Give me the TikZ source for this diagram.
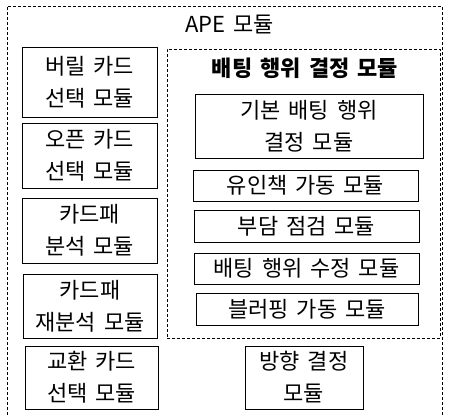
\documentclass[tikz,border=0pt]{standalone}
\usepackage{fontspec}
\setmainfont[WordSpace=1.6]{Noto Sans CJK KR}
\begin{document}
\begin{tikzpicture}[x=1pt,y=-1pt,
    box/.style={draw=black,line width=0.9pt,inner sep=0pt,align=center,
        font=\fontsize{22}{32}\selectfont},
    dashline/.style={draw=black,line width=0.9pt,dash pattern=on 3pt off 2pt}]
    \useasboundingbox (0,0) rectangle (451,416);
    \draw [dashline] (7,420) -- (7,6) -- (442,6) -- (442,420);
    \node (ape) at (229.5,24) [font=\fontsize{22}{32}\selectfont] {APE 모듈};
    \node (discard) at (89.5,82) [box,minimum width=135pt,minimum height=70pt] {버릴 카드\\선택 모듈};
    \node (open) at (89.5,155.5) [box,minimum width=135pt,minimum height=65pt] {오픈 카드\\선택 모듈};
    \node (hand) at (89.5,230.5) [box,minimum width=135pt,minimum height=65pt] {카드패\\분석 모듈};
    \node (rehand) at (90,306) [box,minimum width=134pt,minimum height=64pt] {카드패\\재분석 모듈};
    \node (swap) at (91.5,377.5) [box,minimum width=133pt,minimum height=63pt] {교환 카드\\선택 모듈};
    \node (bet) at (303.5,193.5) [dashline,minimum width=273pt,minimum height=289pt] {};
    \node (bettitle) at (305,68) [font=\fontsize{22}{32}\selectfont\bfseries] {배팅 행위 결정 모듈};
    \node (basic) at (309,126) [box,minimum width=228pt,minimum height=64pt] {기본 배팅 행위\\결정 모듈};
    \node (lure) at (305.5,185.5) [box,minimum width=225pt,minimum height=31pt] {유인책 가동 모듈};
    \node (burden) at (306.5,226) [box,minimum width=225pt,minimum height=32pt] {부담 점검 모듈};
    \node (adjust) at (306.5,268.5) [box,minimum width=225pt,minimum height=31pt] {배팅 행위 수정 모듈};
    \node (bluff) at (307,309) [box,minimum width=222pt,minimum height=32pt] {블러핑 가동 모듈};
    \node (direction) at (304,377.5) [box,minimum width=118pt,minimum height=63pt] {방향 결정\\모듈};
\end{tikzpicture}
\end{document}
